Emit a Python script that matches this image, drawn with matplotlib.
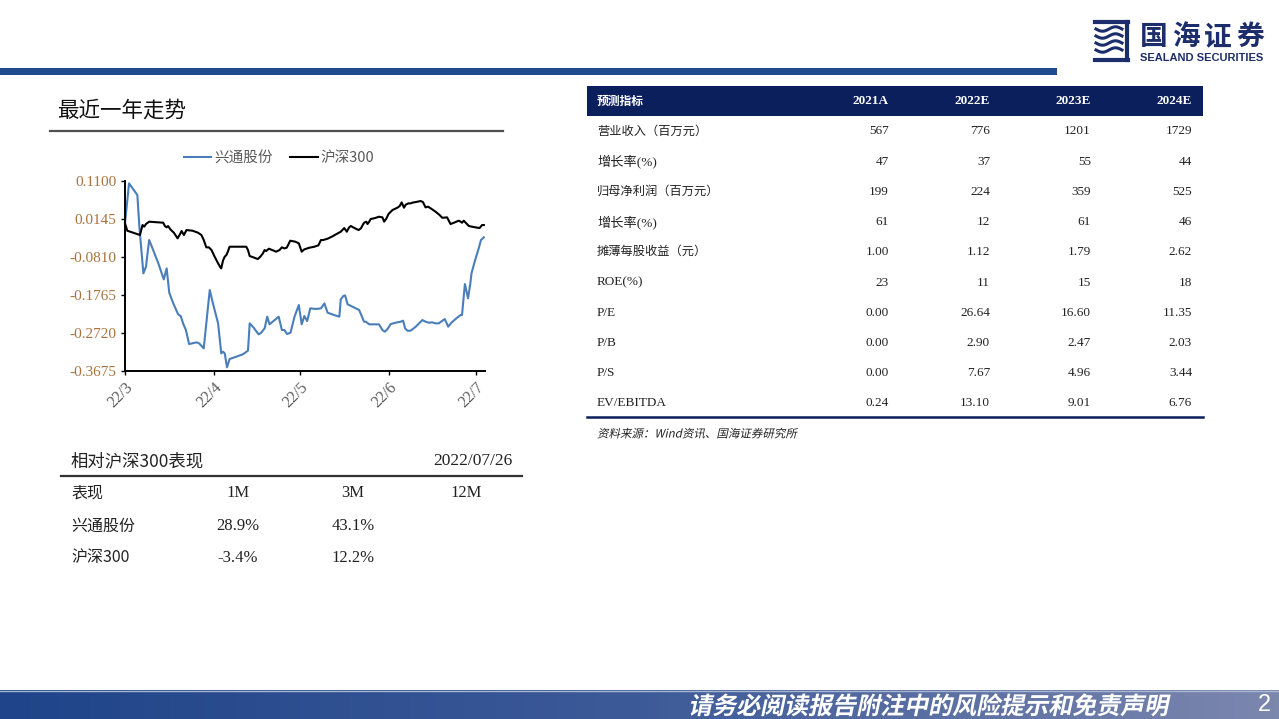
import numpy as np
import matplotlib.pyplot as plt
from matplotlib.patches import Rectangle, PathPatch
from matplotlib.textpath import TextPath
from matplotlib.font_manager import FontProperties
from matplotlib.transforms import Affine2D
from matplotlib.colors import LinearSegmentedColormap

plt.rcParams['font.family'] = ['Noto Sans CJK SC', 'DejaVu Sans']

# 最近一年走势：横轴为 2022-03-01 起的天数
hs300_days = [0.0, 0.8, 5.2, 6.1, 6.7, 7.3, 8.4, 13.3, 13.9, 14.5, 15.0, 15.8, 17.0, 18.3, 19.1,
              19.7, 20.5, 21.4, 23.5, 25.4, 26.6, 27.4, 28.3, 29.2, 30.1, 31.2, 32.4, 33.2, 33.5,
              34.1, 34.7, 35.3, 35.8, 36.4, 42.2, 42.8, 43.4, 44.7, 46.2, 47.1, 48.0, 48.6, 49.1,
              50.1, 51.2, 52.6, 53.8, 54.6, 55.5, 56.3, 57.5, 59.3, 60.5, 61.5, 62.4, 64.2, 65.9,
              67.3, 68.2, 69.0, 70.5, 72.0, 73.4, 75.1, 76.3, 77.2, 78.0, 78.6, 80.1, 81.3, 82.1,
              83.2, 84.0, 84.4, 85.0, 85.5, 87.1, 88.4, 89.6, 90.2, 91.0, 91.7, 93.1, 94.8, 95.6,
              96.3, 97.1, 97.7, 98.6, 99.4, 100.0, 101.2, 102.9, 103.7, 104.6, 105.5, 106.4, 108.1,
              109.5, 110.4, 111.0, 112.1, 112.7, 113.3, 114.5, 115.6, 116.2, 116.8, 117.3, 117.9,
              118.8, 119.7, 120.8, 122.0, 123.4, 124.3, 124.9]
hs300_vals = [0.0028, -0.0157, -0.0265, -0.0014, -0.0056, 0.0011, 0.0070, 0.0044, -0.0039, -0.0073,
              -0.0039, -0.0123, -0.0207, -0.0349, -0.0249, -0.0165, -0.0265, -0.0140, -0.0157,
              -0.0207, -0.0265, -0.0391, -0.0575, -0.0575, -0.0642, -0.0810, -0.0977, -0.1078,
              -0.1103, -0.0910, -0.0810, -0.0768, -0.0684, -0.0559, -0.0559, -0.0642, -0.0793,
              -0.0827, -0.0869, -0.0810, -0.0726, -0.0642, -0.0668, -0.0609, -0.0642, -0.0684,
              -0.0642, -0.0575, -0.0601, -0.0584, -0.0408, -0.0433, -0.0475, -0.0684, -0.0626,
              -0.0584, -0.0559, -0.0525, -0.0391, -0.0391, -0.0358, -0.0307, -0.0249, -0.0182,
              -0.0090, -0.0182, -0.0073, -0.0039, -0.0098, -0.0140, -0.0098, 0.0044, 0.0070,
              0.0011, 0.0070, 0.0137, 0.0162, 0.0195, 0.0179, 0.0070, 0.0153, 0.0262, 0.0363,
              0.0421, 0.0463, 0.0555, 0.0421, 0.0497, 0.0530, 0.0530, 0.0547, 0.0564, 0.0589,
              0.0564, 0.0430, 0.0447, 0.0405, 0.0321, 0.0237, 0.0170, 0.0170, 0.0179, 0.0095,
              0.0011, 0.0044, 0.0078, 0.0095, 0.0070, 0.0044, 0.0095, 0.0028, -0.0039, -0.0056,
              -0.0073, -0.0090, -0.0014, -0.0014]

xt_days = [0.0, 1.4, 4.3, 5.0, 6.4, 7.3, 8.4, 9.8, 11.6, 13.5, 14.5, 15.4, 16.8, 18.5, 19.4, 20.2,
           21.2, 22.3, 24.9, 25.8, 27.4, 29.5, 30.6, 32.4, 33.5, 34.1, 34.7, 35.5, 36.4, 38.7,
           41.0, 42.8, 43.4, 44.7, 46.5, 47.4, 48.6, 49.5, 50.3, 51.4, 53.5, 54.6, 55.5, 56.4,
           57.6, 59.0, 60.5, 61.5, 62.4, 63.4, 64.5, 66.5, 68.2, 69.4, 70.5, 72.8, 74.6, 75.1,
           76.0, 76.6, 77.5, 79.2, 81.5, 83.2, 83.8, 85.0, 88.4, 89.6, 90.4, 91.3, 92.5, 94.2,
           96.0, 96.8, 97.5, 98.3, 99.4, 101.2, 103.5, 104.6, 105.8, 106.9, 108.1, 109.2, 111.3,
           112.5, 113.6, 115.3, 116.8, 117.3, 118.3, 119.4, 120.2, 120.6, 121.7, 123.1, 123.9, 124.9]
xt_vals = [0.0028, 0.1033, 0.0740, -0.0056, -0.1229, -0.1061, -0.0391, -0.0642, -0.0977, -0.1380,
           -0.1103, -0.1715, -0.1983, -0.2259, -0.2301, -0.2485, -0.2653, -0.3005, -0.2963,
           -0.2988, -0.3114, -0.1648, -0.1983, -0.2485, -0.3239, -0.3197, -0.3239, -0.3591,
           -0.3382, -0.3323, -0.3264, -0.3172, -0.2485, -0.2586, -0.2762, -0.2720, -0.2611,
           -0.2318, -0.2510, -0.2443, -0.2318, -0.2653, -0.2653, -0.2753, -0.2720, -0.2318,
           -0.2025, -0.2510, -0.2301, -0.2427, -0.2108, -0.2125, -0.2108, -0.1983, -0.2217,
           -0.2276, -0.2318, -0.1882, -0.1798, -0.1782, -0.2008, -0.2067, -0.2150, -0.2443,
           -0.2443, -0.2510, -0.2510, -0.2653, -0.2695, -0.2636, -0.2502, -0.2469, -0.2443,
           -0.2418, -0.2611, -0.2670, -0.2670, -0.2569, -0.2402, -0.2443, -0.2469, -0.2460,
           -0.2485, -0.2485, -0.2377, -0.2569, -0.2469, -0.2360, -0.2276, -0.2276, -0.1497,
           -0.1857, -0.1480, -0.1229, -0.0936, -0.0601, -0.0391, -0.0324]

month_ticks = [0, 31, 61, 92, 122]
month_labels = ['22/3', '22/4', '22/5', '22/6', '22/7']
y_ticks = [-0.3675, -0.2720, -0.1765, -0.0810, 0.0145, 0.1100]

# 相对沪深300表现
perf_cols = ['1M', '3M', '12M']
perf_rows = ['兴通股份', '沪深300']
perf_vals = [['28.9%', '43.1%', ''], ['-3.4%', '12.2%', '']]

# 盈利预测表
fc_years = ['2021A', '2022E', '2023E', '2024E']
fc_items = ['营业收入（百万元）', '增长率(%)', '归母净利润（百万元）', '增长率(%)', '摊薄每股收益（元）',
            'ROE(%)', 'P/E', 'P/B', 'P/S', 'EV/EBITDA']
fc_vals = [['567', '776', '1201', '1729'],
           ['47', '37', '55', '44'],
           ['199', '224', '359', '525'],
           ['61', '12', '61', '46'],
           ['1.00', '1.12', '1.79', '2.62'],
           ['23', '11', '15', '18'],
           ['0.00', '26.64', '16.60', '11.35'],
           ['0.00', '2.90', '2.47', '2.03'],
           ['0.00', '7.67', '4.96', '3.44'],
           ['0.24', '13.10', '9.01', '6.76']]

W, H = 1279, 719
NAVY = '#0b1f5c'
SERIF = ['Liberation Serif', 'Noto Sans CJK SC']

fig = plt.figure(figsize=(W / 100, H / 100), dpi=100)
bg = fig.add_axes([0, 0, 1, 1])
bg.axis('off')


def slanted(x, y, s, size, color, weight='bold', skew=12):
    tp = TextPath((0, 0), s, size=size, prop=FontProperties(family='Noto Sans CJK SC', weight=weight))
    tr = Affine2D().skew_deg(skew, 0).scale(1, -1).translate(x, y) + bg.transData
    bg.add_patch(PathPatch(tp, transform=tr, color=color, lw=0))


# 页脚渐变条
cmap = LinearSegmentedColormap.from_list('foot', ['#1f4489', '#3d5a98', '#7c87ae'])
bg.imshow(np.linspace(0, 1, 256).reshape(1, -1), extent=(0, W, H, 690), aspect='auto', cmap=cmap)
bg.set_xlim(0, W)
bg.set_ylim(H, 0)
bg.plot([0, W], [690.5, 690.5], color='#a9b6d2', lw=1)
slanted(688, 714, '请务必阅读报告附注中的风险提示和免责声明', 24, 'white')
bg.text(1264, 705, '2', color='white', fontsize=17, family='Liberation Sans', ha='center', va='center')

# 顶部蓝条和标志
bg.add_patch(Rectangle((0, 68), 1057, 7, color='#1f4b8f', lw=0))
logo = '#1c2d6b'
bg.plot([1095, 1128], [22, 22], color=logo, lw=3)
bg.plot([1127, 1127], [22, 60], color=logo, lw=3)
bg.plot([1095, 1128], [60, 60], color=logo, lw=3)
wx = np.linspace(1096, 1122, 40)
for wy in [29, 36, 43, 50]:
    bg.plot(wx, wy + 2.2 * np.sin((wx - 1096) / 26 * 2 * np.pi), color=logo, lw=2.2)
for i, ch in enumerate('国海证券'):
    bg.text(1140 + i * 32, 37, ch, fontsize=20, fontweight='bold', color=logo, va='center')
bg.text(1202, 58, 'SEALAND SECURITIES', fontsize=8, fontweight='bold', color=logo,
        family='Liberation Sans', ha='center', va='center')

# 左侧标题
bg.text(57, 111, '最近一年走势', fontsize=15.5, va='center', color='#111111')
bg.plot([50, 503], [131, 131], color='#505050', lw=1.6)

# 走势图
ax = fig.add_axes([125 / W, 1 - 370.7 / H, 360 / W, 190 / H])
ax.plot(xt_days, xt_vals, color='#4a7ebb', lw=1.5, label='兴通股份', clip_on=False)
ax.plot(hs300_days, hs300_vals, color='black', lw=1.5, label='沪深300', clip_on=False)
ax.set_xlim(0, 125.3)
ax.set_ylim(-0.3675, 0.11)
ax.set_yticks(y_ticks)
ax.set_yticklabels([f'{v:.4f}' for v in y_ticks], family=SERIF, color='#a8733f', fontsize=11)
ax.set_xticks(month_ticks)
ax.set_xticklabels(month_labels, rotation=45, ha='right', va='top', rotation_mode='anchor',
                   family=SERIF, color='#595959', fontsize=11.5)
ax.tick_params(length=3, width=1, pad=3)
for side in ['top', 'right']:
    ax.spines[side].set_visible(False)
for side in ['left', 'bottom']:
    ax.spines[side].set_linewidth(1.4)
ax.patch.set_alpha(0)
leg = ax.legend(loc='center', bbox_to_anchor=(279 / W, 1 - 158 / H), bbox_transform=fig.transFigure,
                ncol=2, frameon=False, fontsize=10.5, handlelength=1.9, handletextpad=0.2,
                columnspacing=1.2)
for t in leg.get_texts():
    t.set_color('#595959')

# 相对沪深300表现
bg.text(71, 461, '相对沪深300表现', fontsize=12.5, va='center', color='#222222')
bg.text(512, 461, '2022/07/26', fontsize=12.5, va='center', ha='right', family=SERIF, color='#222222')
bg.plot([61, 522], [476, 476], color='#333333', lw=1.6)
col_x = [238, 353, 466]
bg.text(71, 493, '表现', fontsize=11.5, va='center', color='#222222')
for cx, c in zip(col_x, perf_cols):
    bg.text(cx, 493, c, fontsize=12, ha='center', va='center', family=SERIF, color='#222222')
for i, (r, vals) in enumerate(zip(perf_rows, perf_vals)):
    y = 526 + i * 31.5
    bg.text(71, y, r, fontsize=11.5, va='center', color='#222222')
    for cx, v in zip(col_x, vals):
        bg.text(cx, y, v, fontsize=12, ha='center', va='center', family=SERIF, color='#222222')

# 盈利预测表
bg.add_patch(Rectangle((587, 86), 616, 30, color=NAVY, lw=0))
num_x = [889, 990, 1091, 1192]
bg.text(597, 101, '预测指标', fontsize=8.5, fontweight='bold', color='white', va='center')
for nx, yr in zip(num_x, fc_years):
    bg.text(nx, 101, yr, fontsize=9.5, fontweight='bold', color='white', va='center', ha='right',
            family=SERIF)
for i, (item, vals) in enumerate(zip(fc_items, fc_vals)):
    y = 131.5 + i * 30.2
    bg.text(597, y, item, fontsize=8.8 if '（' in item else 9.5, va='center', color='#222222',
            family=SERIF)
    for nx, v in zip(num_x, vals):
        bg.text(nx, y, v, fontsize=9.5, va='center', ha='right', family=SERIF, color='#222222')
bg.plot([587, 1203], [417, 417], color=NAVY, lw=1.8)
slanted(597, 437.5, '资料来源：Wind资讯、国海证券研究所', 11.5, '#222222', weight='normal')

fig.savefig('out.png', dpi=100)
